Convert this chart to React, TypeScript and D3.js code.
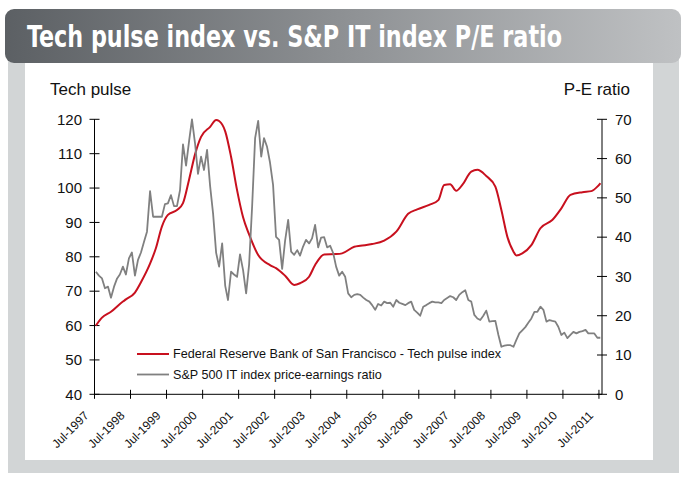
import * as d3 from "d3";

// tech pulse index (left axis), read at selected months
const pulseMonths = [
  "1997-07", "1997-09", "1997-12", "1998-04", "1998-05", "1998-08", "1998-10",
  "1999-01", "1999-03", "1999-05", "1999-07", "1999-10", "1999-12",
  "2000-02", "2000-04", "2000-06", "2000-09", "2000-11", "2000-12",
  "2001-02", "2001-04", "2001-06", "2001-08", "2001-10",
  "2002-01", "2002-05", "2002-07", "2002-10",
  "2003-01", "2003-03", "2003-06", "2003-08", "2003-11",
  "2004-03", "2004-05", "2004-09", "2004-11",
  "2005-03", "2005-07", "2005-11",
  "2006-03", "2006-06", "2006-10",
  "2007-01", "2007-03", "2007-05", "2007-07", "2007-09", "2007-12",
  "2008-02", "2008-05", "2008-08", "2008-10", "2008-12",
  "2009-02", "2009-03", "2009-05", "2009-08", "2009-11",
  "2010-03", "2010-06", "2010-09",
  "2011-01", "2011-04", "2011-06", "2011-07",
];
const pulseValues = [
  60.0, 62.3, 64.0, 67.0, 67.6, 69.6, 72.6,
  78.0, 82.5, 88.8, 92.2, 93.6, 95.6,
  102.5, 109.8, 114.9, 117.8, 119.8, 119.5,
  116.5, 109.1, 99.4, 91.5, 86.5,
  80.5, 77.6, 76.7, 74.5,
  71.8, 72.3, 74.2, 77.6, 80.7,
  80.8, 81.0, 82.9, 83.2,
  83.7, 84.7, 87.3,
  92.5, 93.8, 95.1,
  96.5, 100.9, 101.1, 99.2, 100.9, 104.8,
  105.3, 103.5, 100.4, 93.6, 85.8,
  81.5, 80.4, 81.0, 83.4, 88.3,
  90.7, 94.1, 98.0,
  98.8, 99.1, 100.4, 101.4,
];

// S&P 500 IT P/E ratio (right axis), monthly from Jul 1997
const peStart = "1997-07";
const peValues = [
  31.2, 30.2, 29.5, 27.0, 27.4, 24.6, 27.4, 29.5, 30.5, 32.5, 30.5, 34.6,
  36.1, 30.2, 34.2, 36.1, 38.8, 41.4, 51.7, 45.2, 45.2, 45.2, 45.2, 48.4,
  48.6, 50.7, 47.9, 47.9, 52.0, 63.6, 58.2, 64.5, 70.0, 63.9, 56.1, 60.5,
  57.1, 62.2, 53.0, 46.0, 36.0, 32.5, 38.4, 27.6, 24.0, 31.2, 30.5, 29.9,
  35.6, 31.6, 25.7, 33.0, 48.0, 65.2, 69.6, 60.5, 65.2, 63.0, 59.0, 53.3,
  40.1, 39.3, 31.9, 39.1, 44.4, 36.3, 35.5, 36.7, 35.3, 37.6, 39.3, 38.4,
  39.7, 43.1, 37.4, 39.9, 40.0, 37.4, 37.8, 35.9, 32.5, 30.2, 31.2, 29.9,
  25.7, 24.7, 25.3, 25.5, 25.3, 24.6, 24.0, 23.6, 22.7, 21.5, 23.0, 22.6,
  23.6, 23.2, 23.3, 22.3, 24.0, 23.3, 23.0, 22.7, 23.2, 23.6, 21.5, 20.8,
  20.0, 22.3, 22.7, 23.2, 23.6, 23.4, 23.4, 23.2, 24.0, 24.5, 25.0, 24.7,
  24.0, 25.3, 26.0, 26.5, 24.0, 23.6, 20.2, 19.3, 18.9, 20.0, 21.3, 18.5,
  18.6, 18.7, 15.1, 12.1, 12.4, 12.5, 12.5, 12.1, 13.8, 15.5, 16.3, 17.1,
  18.2, 19.3, 21.0, 21.0, 22.3, 21.5, 18.5, 18.9, 18.7, 18.5, 17.2, 15.1,
  15.7, 14.3, 15.1, 15.9, 15.5, 15.9, 16.1, 16.4, 15.5, 15.5, 15.5, 14.4, 14.4,
];

const leftTicks = [40, 50, 60, 70, 80, 90, 100, 110, 120];
const rightTicks = [0, 10, 20, 30, 40, 50, 60, 70];
const tickYears = [1997, 1998, 1999, 2000, 2001, 2002, 2003, 2004, 2005, 2006, 2007, 2008, 2009, 2010, 2011];

const titleText = "Tech pulse index vs. S&P IT index P/E ratio";
const leftTitle = "Tech pulse";
const rightTitle = "P-E ratio";
const legendLabels = [
  "Federal Reserve Bank of San Francisco - Tech pulse index",
  "S&P 500 IT index price-earnings ratio",
];

const RED = "#c8101e";
const GREY = "#808080";
const FONT = "'Liberation Sans', Arial, sans-serif";

const W = 683;
const H = 477;
const left = 94.5;
const right = 602;
const top = 119.3;
const bottom = 394.3;

export default function App() {
  const parseMonth = d3.timeParse("%Y-%m");
  const mid = (d: Date) => d3.timeDay.offset(d, 14); // points sit mid-month

  const x = d3
    .scaleTime()
    .domain([new Date(1997, 6, 1), new Date(2011, 7, 1)])
    .range([left, right]);
  const yL = d3.scaleLinear().domain([40, 120]).range([bottom, top]);
  const yR = d3.scaleLinear().domain([0, 70]).range([bottom, top]);

  const pulse = pulseMonths.map((m, i) => ({ date: mid(parseMonth(m)!), value: pulseValues[i] }));
  const start = parseMonth(peStart)!;
  const pe = peValues.map((v, i) => ({ date: mid(d3.timeMonth.offset(start, i)), value: v }));

  const pulseLine = d3
    .line<{ date: Date; value: number }>()
    .x((d) => x(d.date))
    .y((d) => yL(d.value))
    .curve(d3.curveMonotoneX);
  const peLine = d3
    .line<{ date: Date; value: number }>()
    .x((d) => x(d.date))
    .y((d) => yR(d.value));

  return (
    <svg
      width={W}
      height={H}
      style={{ position: "absolute", left: 0, top: 0, background: "#fff" }}
      fontFamily={FONT}
    >
      <defs>
        <linearGradient id="bar" x1="0" x2="1" y1="0" y2="0">
          <stop offset="0" stopColor="#5c6064" />
          <stop offset="1" stopColor="#bfc1c3" />
        </linearGradient>
      </defs>

      {/* frame */}
      <rect x={8} y={40} width={671} height={433} fill="#d2d5d6" />
      <rect x={25} y={62} width={628} height={398} fill="#fff" />
      <rect x={5} y={9} width={676} height={54} rx={9} fill="url(#bar)" />
      <text
        x={27}
        y={47}
        fill="#fff"
        fontSize={30}
        fontWeight="bold"
        fontFamily="'Liberation Sans Narrow', 'DejaVu Sans Condensed', 'Liberation Sans', Arial, sans-serif"
        textLength={535}
        lengthAdjust="spacingAndGlyphs"
      >
        {titleText}
      </text>

      {/* axis titles */}
      <text x={50} y={95} fontSize={17} fill="#111">{leftTitle}</text>
      <text x={630} y={95} fontSize={17} fill="#111" textAnchor="end">{rightTitle}</text>

      {/* left axis */}
      <line x1={left} x2={left} y1={top} y2={bottom} stroke="#000" />
      {leftTicks.map((t) => (
        <g key={"l" + t}>
          <line x1={left - 5} x2={left + 5} y1={yL(t)} y2={yL(t)} stroke="#000" />
          <text x={82} y={yL(t)} dy="0.35em" fontSize={15} textAnchor="end" fill="#111">
            {t}
          </text>
        </g>
      ))}

      {/* right axis */}
      <line x1={right} x2={right} y1={top} y2={bottom} stroke="#000" />
      {rightTicks.map((t) => (
        <g key={"r" + t}>
          <line x1={right - 5} x2={right + 5} y1={yR(t)} y2={yR(t)} stroke="#000" />
          <text x={615} y={yR(t)} dy="0.35em" fontSize={15} fill="#111">
            {t}
          </text>
        </g>
      ))}

      {/* x axis */}
      <line x1={left} x2={right} y1={bottom} y2={bottom} stroke="#000" />
      {tickYears.map((yr) => {
        const xx = x(new Date(yr, 6, 1));
        return (
          <g key={"x" + yr}>
            <line x1={xx} x2={xx} y1={bottom - 4.5} y2={bottom + 4.5} stroke="#000" />
            <text
              transform={`translate(${xx - 5},${bottom + 22}) rotate(-45)`}
              fontSize={12}
              textAnchor="end"
              fill="#111"
            >
              {"Jul-" + yr}
            </text>
          </g>
        );
      })}

      {/* series */}
      <path d={pulseLine(pulse) ?? ""} fill="none" stroke={RED} strokeWidth={2} />
      <path d={peLine(pe) ?? ""} fill="none" stroke={GREY} strokeWidth={1.8} strokeLinejoin="round" />

      {/* legend */}
      {legendLabels.map((label, i) => (
        <g key={label} transform={`translate(137,${354 + i * 20.5})`}>
          <line x1={0} x2={32} y1={0} y2={0} stroke={i === 0 ? RED : GREY} strokeWidth={i === 0 ? 2 : 1.8} />
          <text x={36} y={0} dy="0.35em" fontSize={12.6} fill="#111">
            {label}
          </text>
        </g>
      ))}
    </svg>
  );
}
